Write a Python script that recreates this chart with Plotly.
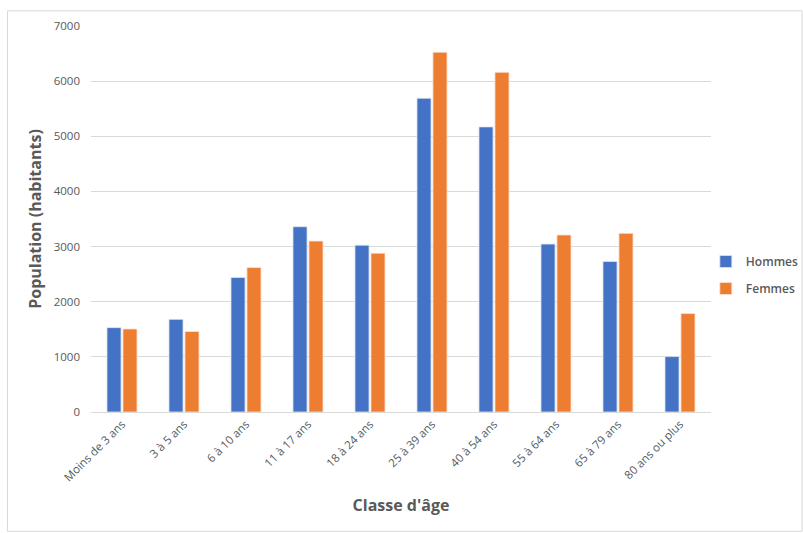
import plotly.graph_objects as go

# Population by age class and sex
categories = ["Moins de 3 ans", "3 à 5 ans", "6 à 10 ans", "11 à 17 ans", "18 à 24 ans",
              "25 à 39 ans", "40 à 54 ans", "55 à 64 ans", "65 à 79 ans", "80 ans ou plus"]
hommes = [1530, 1680, 2440, 3360, 3025, 5690, 5170, 3045, 2730, 1005]
femmes = [1505, 1460, 2620, 3100, 2880, 6525, 6160, 3210, 3240, 1785]
y_ticks = [0, 1000, 2000, 3000, 4000, 5000, 6000, 7000]

FONT = "Open Sans, Noto Sans, sans-serif"
GRID = "#D9D9D9"

fig = go.Figure()
fig.add_trace(go.Bar(name="Hommes", x=categories, y=hommes, legendgroup="h",
                     marker=dict(color="#4472C4", line=dict(color="#DCE4F3", width=0.8))))
fig.add_trace(go.Bar(name="Femmes", x=categories, y=femmes, legendgroup="f",
                     marker=dict(color="#ED7D31", line=dict(color="#FBE1D1", width=0.8))))

fig.update_layout(
    width=803, height=533,
    margin=dict(l=91, r=92, t=26, b=121, autoexpand=False),
    paper_bgcolor="white", plot_bgcolor="white",
    barmode="group", bargap=0.485, bargroupgap=0.12,
    font=dict(family=FONT, color="#595959"),
    legend=dict(xref="container", yref="container", x=0.879, y=0.484,
                xanchor="left", yanchor="middle",
                font=dict(size=12, color="#595959", weight=600),
                itemwidth=30, tracegroupgap=8, bgcolor="rgba(0,0,0,0)"),
    xaxis=dict(
        tickangle=-45, tickfont=dict(size=11.5, color="#595959"),
        showgrid=False, showline=True, linecolor=GRID, linewidth=1, ticks="",
        title=dict(text="Classe d'âge", font=dict(size=16, color="#595959", weight="bold"), standoff=16),
    ),
    yaxis=dict(
        range=[0, 7000], tickvals=y_ticks, tickfont=dict(size=11.5, color="#595959"),
        showgrid=True, gridcolor=GRID, gridwidth=1, zeroline=False, ticks="",
        ticklabelstandoff=10, showline=False,
        title=dict(text="Population (habitants)", font=dict(size=16, color="#595959", weight="bold"), standoff=8),
    ),
    shapes=[dict(type="rect", xref="paper", yref="paper",
                 x0=(7.5 - 91) / 620, x1=(802 - 91) / 620,
                 y0=(411.7 - 531) / 386, y1=(411.7 - 10.5) / 386,
                 line=dict(color="#D9D9D9", width=1), fillcolor="rgba(0,0,0,0)", layer="below")],
)

fig.write_html("out.html")
